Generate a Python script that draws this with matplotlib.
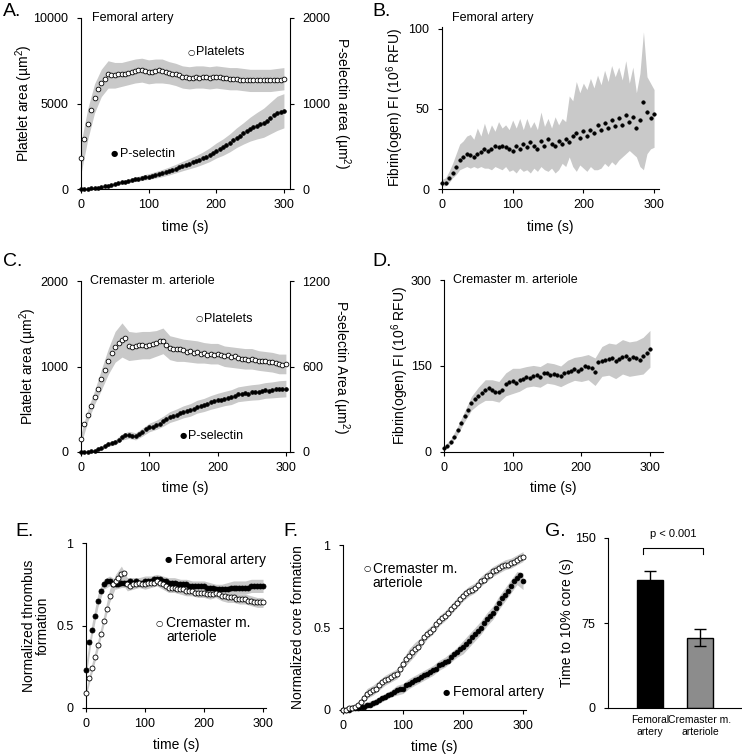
import numpy as np
import matplotlib
matplotlib.use("Agg")
import matplotlib.pyplot as plt

plt.rcParams['font.family'] = ['Liberation Sans', 'DejaVu Sans']
plt.rcParams['mathtext.fontset'] = 'custom'
plt.rcParams['mathtext.rm'] = 'Liberation Sans'
plt.rcParams['mathtext.default'] = 'regular'

######################################
# Data
######################################

t5 = np.arange(0, 301, 5)      # sample times of the dots (s)
t10 = np.arange(0, 301, 10)    # sample times of the SD bands (s)

# A. femoral artery, platelet area (um2) and P-selectin area (um2)
A_plt = [1800, 2900, 3800, 4600, 5300, 5850, 6200, 6450, 6700, 6650,
         6650, 6700, 6700, 6750, 6800, 6850, 6900, 6950, 6950, 6900,
         6850, 6850, 6900, 6950, 6900, 6850, 6800, 6750, 6700, 6650,
         6550, 6550, 6500, 6500, 6550, 6500, 6550, 6550, 6500, 6550,
         6550, 6550, 6500, 6500, 6450, 6450, 6450, 6400, 6400, 6400,
         6350, 6350, 6350, 6350, 6350, 6350, 6350, 6350, 6400, 6400,
         6450]
A_plt_sd = [900, 900, 850, 800, 800, 750, 700, 700, 700, 700, 700,
            700, 700, 650, 650, 650, 650, 650, 650, 650, 650,
            650, 650, 650, 650, 650, 650, 650, 650, 650, 650]
A_psel = [0, 1, 3, 6, 10, 15, 22, 30, 40, 50,
          60, 70, 78, 86, 94, 104, 113, 122, 130, 138,
          146, 155, 165, 175, 186, 197, 210, 224, 238, 252,
          268, 282, 296, 310, 325, 340, 360, 380, 400, 425,
          450, 470, 490, 515, 540, 570, 600, 625, 650, 675,
          700, 720, 740, 755, 775, 800, 830, 860, 885, 905,
          915]
A_psel_sd = [0, 2, 4, 6, 10, 14, 18, 22, 26, 30, 34,
             38, 42, 46, 50, 55, 60, 66, 72, 80, 88,
             96, 105, 115, 125, 140, 155, 170, 185, 200, 200]

# B. femoral artery, fibrin(ogen) FI (10^6 RFU)
B_fib = [4, 4, 7, 10, 14, 18, 20, 22, 21, 20,
         22, 23, 25, 24, 25, 27, 26, 27, 26, 25,
         24, 27, 25, 28, 26, 29, 27, 25, 30, 27,
         31, 28, 27, 30, 28, 31, 29, 33, 35, 32,
         36, 33, 37, 35, 40, 37, 41, 38, 43, 39,
         44, 40, 46, 42, 45, 38, 43, 54, 48, 44,
         47]
B_fib_hi = [6, 7, 11, 16, 22, 28, 30, 33, 34, 31,
            38, 33, 41, 34, 40, 36, 42, 38, 40, 37,
            43, 38, 44, 37, 44, 38, 42, 37, 48, 39,
            44, 38, 45, 40, 44, 42, 58, 55, 67, 60,
            66, 62, 69, 63, 71, 65, 74, 67, 77, 70,
            76, 68, 80, 66, 76, 60, 72, 98, 70, 66,
            62]
B_fib_lo = [2, 2, 4, 7, 9, 12, 13, 14, 13, 14,
            13, 14, 13, 13, 12, 14, 13, 12, 14, 11,
            12, 10, 13, 11, 12, 10, 13, 11, 14, 12,
            11, 13, 10, 12, 16, 14, 20, 14, 11, 15,
            13, 11, 14, 12, 12, 13, 16, 14, 17, 15,
            18, 20, 22, 24, 22, 20, 14, 12, 22, 25,
            26]

# C. cremaster arteriole, platelet area and P-selectin area
C_plt = [150, 330, 430, 540, 640, 740, 850, 960, 1060, 1160,
         1230, 1280, 1310, 1330, 1240, 1230, 1240, 1250, 1250, 1240,
         1250, 1260, 1270, 1300, 1300, 1250, 1220, 1210, 1200, 1200,
         1190, 1170, 1180, 1160, 1170, 1150, 1160, 1140, 1150, 1140,
         1150, 1130, 1120, 1130, 1110, 1120, 1100, 1090, 1090, 1080,
         1090, 1080, 1070, 1070, 1060, 1050, 1050, 1040, 1030, 1020,
         1030]
C_plt_sd = [60, 70, 80, 120, 150, 180, 200, 170, 160, 160, 160,
            150, 150, 140, 140, 130, 130, 130, 120, 120, 120,
            120, 120, 120, 120, 120, 115, 115, 115, 115, 115]
C_psel = [0, 1, 2, 4, 10, 18, 28, 42, 55, 62,
          68, 85, 105, 118, 120, 112, 110, 125, 140, 158,
          172, 178, 190, 200, 215, 232, 245, 250, 262, 272,
          282, 290, 295, 305, 318, 322, 330, 340, 348, 360,
          362, 368, 375, 380, 385, 395, 405, 410, 412, 408,
          418, 420, 422, 428, 432, 430, 436, 440, 442, 440,
          445]
C_psel_sd = [2, 4, 8, 12, 15, 18, 22, 25, 25, 28, 30,
             32, 35, 38, 40, 42, 44, 45, 46, 48, 50,
             50, 52, 52, 53, 54, 55, 55, 56, 58, 58]

# D. cremaster arteriole, fibrin(ogen) FI
D_fib = [7, 11, 18, 27, 38, 50, 62, 74, 85, 92,
         98, 103, 108, 112, 108, 104, 105, 108, 118, 122,
         124, 121, 126, 128, 131, 129, 133, 135, 131, 137,
         138, 134, 136, 134, 132, 138, 140, 141, 145, 142,
         145, 150, 148, 146, 140, 157, 158, 160, 162, 164,
         158, 162, 166, 168, 162, 166, 164, 160, 168, 172,
         180]
D_fib_sd = [3, 5, 7, 9, 12, 15, 18, 18, 18, 20, 22,
            20, 18, 18, 18, 18, 18, 18, 20, 20, 22,
            22, 24, 26, 28, 30, 30, 30, 30, 32, 32]

# E. normalized thrombus formation
E_fem = [0.23, 0.40, 0.47, 0.56, 0.65, 0.71, 0.75, 0.77, 0.77, 0.75,
         0.75, 0.75, 0.76, 0.76, 0.76, 0.77, 0.76, 0.77, 0.76, 0.76,
         0.77, 0.77, 0.77, 0.78, 0.78, 0.78, 0.77, 0.77, 0.76, 0.76,
         0.76, 0.75, 0.75, 0.75, 0.75, 0.74, 0.74, 0.74, 0.74, 0.74,
         0.74, 0.73, 0.73, 0.73, 0.72, 0.72, 0.72, 0.72, 0.72, 0.73,
         0.73, 0.73, 0.73, 0.73, 0.73, 0.73, 0.74, 0.74, 0.74, 0.74,
         0.74]
E_fem_sd = [0.04, 0.04, 0.04, 0.03, 0.03, 0.03, 0.03, 0.03, 0.03, 0.03, 0.03,
            0.03, 0.03, 0.03, 0.03, 0.03, 0.03, 0.03, 0.03, 0.03, 0.03,
            0.03, 0.03, 0.03, 0.04, 0.04, 0.04, 0.04, 0.04, 0.04, 0.04]
E_crem = [0.09, 0.18, 0.24, 0.31, 0.38, 0.45, 0.53, 0.60, 0.68, 0.75,
          0.77, 0.79, 0.81, 0.82, 0.75, 0.74, 0.75, 0.75, 0.76, 0.75,
          0.75, 0.76, 0.76, 0.76, 0.77, 0.76, 0.75, 0.74, 0.73, 0.73,
          0.73, 0.72, 0.72, 0.72, 0.71, 0.71, 0.71, 0.70, 0.70, 0.70,
          0.70, 0.69, 0.69, 0.69, 0.70, 0.69, 0.68, 0.68, 0.67, 0.67,
          0.67, 0.66, 0.66, 0.66, 0.66, 0.65, 0.65, 0.64, 0.64, 0.64,
          0.64]
E_crem_sd = [0.02, 0.03, 0.03, 0.03, 0.04, 0.04, 0.05, 0.04, 0.03, 0.03, 0.03,
             0.03, 0.03, 0.03, 0.03, 0.03, 0.03, 0.03, 0.03, 0.03, 0.03,
             0.03, 0.03, 0.03, 0.03, 0.03, 0.03, 0.03, 0.03, 0.03, 0.03]

# F. normalized core formation
F_crem = [0.00, 0.00, 0.01, 0.01, 0.02, 0.03, 0.05, 0.07, 0.10, 0.11,
          0.12, 0.13, 0.15, 0.17, 0.18, 0.19, 0.20, 0.21, 0.22, 0.25,
          0.28, 0.31, 0.33, 0.35, 0.37, 0.38, 0.41, 0.44, 0.46, 0.47,
          0.49, 0.52, 0.54, 0.56, 0.57, 0.59, 0.61, 0.63, 0.65, 0.67,
          0.69, 0.71, 0.72, 0.73, 0.74, 0.76, 0.78, 0.79, 0.81, 0.82,
          0.84, 0.85, 0.86, 0.87, 0.88, 0.88, 0.89, 0.90, 0.91, 0.92,
          0.93]
F_crem_sd = [0.01, 0.01, 0.01, 0.02, 0.03, 0.03, 0.03, 0.03, 0.03, 0.03, 0.03,
             0.04, 0.04, 0.03, 0.03, 0.03, 0.03, 0.03, 0.03, 0.03, 0.03,
             0.03, 0.03, 0.03, 0.03, 0.03, 0.03, 0.03, 0.03, 0.03, 0.03]
F_fem = [0.00, 0.00, 0.00, 0.01, 0.01, 0.01, 0.02, 0.02, 0.03, 0.03,
         0.04, 0.05, 0.06, 0.07, 0.08, 0.09, 0.10, 0.11, 0.12, 0.13,
         0.13, 0.15, 0.16, 0.17, 0.18, 0.19, 0.20, 0.21, 0.22, 0.23,
         0.24, 0.25, 0.27, 0.28, 0.29, 0.30, 0.32, 0.34, 0.35, 0.37,
         0.38, 0.40, 0.42, 0.44, 0.46, 0.48, 0.50, 0.53, 0.55, 0.57,
         0.59, 0.62, 0.65, 0.68, 0.70, 0.72, 0.75, 0.78, 0.80, 0.82,
         0.78]
F_fem_sd = [0.01, 0.01, 0.01, 0.01, 0.02, 0.02, 0.02, 0.02, 0.02, 0.03, 0.03,
            0.03, 0.03, 0.03, 0.03, 0.03, 0.03, 0.03, 0.03, 0.03, 0.04,
            0.04, 0.04, 0.04, 0.04, 0.04, 0.04, 0.04, 0.04, 0.04, 0.05]

# G. time to 10% core (s)
G_groups = ['Femoral\nartery', 'Cremaster m.\narteriole']
G_time = [113, 62]
G_err = [8, 7.5]

######################################
# Styling
######################################

band = '#c9c9c9'
W, H = 742, 756


def box(l, r, top, bot):
    # pixel box -> figure fraction
    return [l / W, 1 - bot / H, (r - l) / W, (bot - top) / H]


def style(ax, right=False):
    ax.spines['top'].set_visible(False)
    if not right:
        ax.spines['right'].set_visible(False)
    for s in ax.spines.values():
        s.set_linewidth(0.8)
    ax.tick_params(direction='out', length=3, width=0.8, labelsize=9)
    ax.tick_params(axis='x', pad=4.5)
    ax.tick_params(axis='y', pad=6)


def labels(ax, xl, xy, yl, yx):
    # axis titles centred on the given axes-fraction spots
    ax.set_xlabel(xl, fontsize=10, va='center')
    ax.xaxis.set_label_coords(0.5, xy)
    ax.set_ylabel(yl, fontsize=10, va='center', linespacing=1.05)
    ax.yaxis.set_label_coords(yx, 0.5)


def sd_band(ax, mean, sd):
    m = np.asarray(mean)[::2]
    s = np.asarray(sd)
    ax.fill_between(t10, m - s, m + s, color=band, lw=0, zorder=1)


def dots(ax, y, filled, ms):
    ax.plot(t5, y, ls='none', marker='o', ms=ms, mew=0.6, mec='black',
            mfc='black' if filled else 'white', zorder=3, clip_on=False)


def key(ax, x, y, glyph, label, fs=9, gap=0.025):
    ax.text(x, y, glyph, transform=ax.transAxes, fontsize=6, ha='center',
            va='center', family=['DejaVu Sans'])
    ax.text(x + gap, y, label, transform=ax.transAxes, fontsize=fs,
            ha='left', va='center')


fig = plt.figure(figsize=(7.42, 7.56), dpi=100)

# ---------- A ----------
axA = fig.add_axes(box(81, 290, 18, 189))
axA2 = axA.twinx()
sd_band(axA, A_plt, A_plt_sd)
sd_band(axA2, A_psel, A_psel_sd)
dots(axA, A_plt, False, 3.4)
dots(axA2, A_psel, True, 2.6)
axA.set_xlim(0, 309)
axA.set_ylim(0, 10000)
axA2.set_ylim(0, 2000)
axA.set_xticks([0, 100, 200, 300])
axA.set_yticks([0, 5000, 10000])
axA2.set_yticks([0, 1000, 2000])
style(axA)
style(axA2, right=True)
axA2.spines['left'].set_visible(False)
axA2.spines['bottom'].set_visible(False)
labels(axA, 'time (s)', -0.222, 'Platelet area (µm$^2$)', -0.27)
axA2.set_ylabel('P-selectin area (µm$^2$)', fontsize=10, rotation=270, va='center')
axA2.yaxis.set_label_coords(1.25, 0.5)
axA.text(0.053, 1.0, 'Femoral artery', transform=axA.transAxes, fontsize=9, va='center')
key(axA2, 0.526, 0.801, '○', 'Platelets', gap=0.022)
key(axA2, 0.158, 0.205, '●', 'P-selectin', gap=0.027)

# ---------- B ----------
axB = fig.add_axes(box(442, 659, 27, 189))
axB.fill_between(t5, B_fib_lo, B_fib_hi, color=band, lw=0, zorder=1)
dots(axB, B_fib, True, 2.4)
axB.set_xlim(0, 307)
axB.set_ylim(0, 101)
axB.set_xticks([0, 100, 200, 300])
axB.set_yticks([0, 50, 100])
style(axB)
labels(axB, 'time (s)', -0.235, 'Fibrin(ogen) FI (10$^6$ RFU)', -0.217)
axB.text(0.046, 1.056, 'Femoral artery', transform=axB.transAxes, fontsize=9, va='center')

# ---------- C ----------
axC = fig.add_axes(box(81, 290, 281, 452))
axC2 = axC.twinx()
sd_band(axC, C_plt, C_plt_sd)
sd_band(axC2, C_psel, C_psel_sd)
dots(axC, C_plt, False, 3.4)
dots(axC2, C_psel, True, 2.6)
axC.set_xlim(0, 306)
axC.set_ylim(0, 2000)
axC2.set_ylim(0, 1200)
axC.set_xticks([0, 100, 200, 300])
axC.set_yticks([0, 1000, 2000])
axC2.set_yticks([0, 600, 1200])
style(axC)
style(axC2, right=True)
axC2.spines['left'].set_visible(False)
axC2.spines['bottom'].set_visible(False)
labels(axC, 'time (s)', -0.211, 'Platelet area (µm$^2$)', -0.254)
axC2.set_ylabel('P-selectin Area (µm$^2$)', fontsize=10, rotation=270, va='center')
axC2.yaxis.set_label_coords(1.245, 0.5)
axC.text(0.043, 1.0, 'Cremaster m. arteriole', transform=axC.transAxes, fontsize=9, va='center')
key(axC2, 0.565, 0.778, '○', 'Platelets', gap=0.022)
key(axC2, 0.488, 0.094, '●', 'P-selectin', gap=0.022)

# ---------- D ----------
axD = fig.add_axes(box(444, 663, 280, 452))
sd_band(axD, D_fib, D_fib_sd)
dots(axD, D_fib, True, 2.4)
axD.set_xlim(0, 319)
axD.set_ylim(0, 300)
axD.set_xticks([0, 100, 200, 300])
axD.set_yticks([0, 150, 300])
style(axD)
labels(axD, 'time (s)', -0.209, 'Fibrin(ogen) FI (10$^6$ RFU)', -0.20)
axD.text(0.041, 1.0, 'Cremaster m. arteriole', transform=axD.transAxes, fontsize=9, va='center')

# ---------- E ----------
axE = fig.add_axes(box(86, 266, 543, 708))
sd_band(axE, E_fem, E_fem_sd)
sd_band(axE, E_crem, E_crem_sd)
dots(axE, E_fem, True, 3.6)
dots(axE, E_crem, False, 3.6)
axE.set_xlim(0, 305)
axE.set_ylim(0, 1)
axE.set_xticks([0, 100, 200, 300])
axE.set_yticks([0, 0.5, 1])
axE.set_yticklabels(['0', '0.5', '1'])
style(axE)
labels(axE, 'time (s)', -0.224, 'Normalized thrombus\nformation', -0.278)
key(axE, 0.456, 0.897, '●', 'Femoral artery', fs=10, gap=0.038)
axE.text(0.406, 0.515, '○', transform=axE.transAxes, fontsize=6, ha='center',
         va='center', family=['DejaVu Sans'])
axE.text(0.444, 0.56, 'Cremaster m.\narteriole', transform=axE.transAxes,
         fontsize=10, ha='left', va='top', linespacing=1.05)

# ---------- F ----------
axF = fig.add_axes(box(343, 526, 545, 710))
sd_band(axF, F_crem, F_crem_sd)
sd_band(axF, F_fem, F_fem_sd)
dots(axF, F_fem, True, 3.4)
dots(axF, F_crem, False, 3.6)
axF.set_xlim(0, 305)
axF.set_ylim(0, 1)
axF.set_xticks([0, 100, 200, 300])
axF.set_yticks([0, 0.5, 1])
axF.set_yticklabels(['0', '0.5', '1'])
style(axF)
labels(axF, 'time (s)', -0.224, 'Normalized core formation', -0.246)
axF.text(0.131, 0.855, '○', transform=axF.transAxes, fontsize=6, ha='center',
         va='center', family=['DejaVu Sans'])
axF.text(0.162, 0.898, 'Cremaster m.\narteriole', transform=axF.transAxes,
         fontsize=10, ha='left', va='top', linespacing=1.05)
key(axF, 0.563, 0.109, '●', 'Femoral artery', fs=10, gap=0.038)

# ---------- G ----------
axG = fig.add_axes(box(608, 741, 538, 708))
axG.bar([0, 1], G_time, width=0.52, color=['black', '#8c8c8c'],
        edgecolor='black', linewidth=1, yerr=G_err, capsize=4,
        error_kw=dict(elinewidth=1, capthick=1, ecolor='black'))
axG.set_xlim(-0.84, 1.82)
axG.set_ylim(0, 150)
axG.set_yticks([0, 75, 150])
axG.set_xticks([0, 1])
axG.set_xticklabels(G_groups, fontsize=7.5, linespacing=1.3)
style(axG)
axG.tick_params(axis='x', length=0, pad=5, labelsize=7.5)
axG.set_ylabel('Time to 10% core (s)', fontsize=10, va='center')
axG.yaxis.set_label_coords(-0.308, 0.5)
axG.plot([-0.14, -0.14, 1.06, 1.06], [136, 141, 141, 136], color='black',
         lw=0.8, clip_on=False)
axG.text(0.46, 149, 'p < 0.001', fontsize=8, ha='center', va='bottom')

# panel letters
for lab, x, y in [('A.', 3, 12), ('B.', 372, 12), ('C.', 3, 262), ('D.', 372, 262),
                  ('E.', 15, 532), ('F.', 283, 532), ('G.', 545, 532)]:
    fig.text(x / W, 1 - y / H, lab, fontsize=14, ha='left', va='center')

fig.savefig('out.png', dpi=100)
